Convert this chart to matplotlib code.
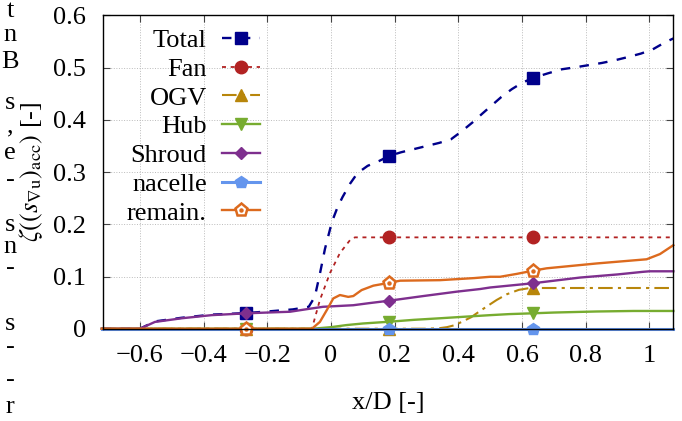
import matplotlib
matplotlib.use("Agg")
import matplotlib.pyplot as plt
import numpy as np
from matplotlib.legend_handler import HandlerTuple

plt.rcParams['font.family'] = ['Liberation Serif', 'DejaVu Serif']
plt.rcParams['mathtext.fontset'] = 'stix'
plt.rcParams['font.size'] = 19

# positions of the symbols along x/D
marker_x = [-0.267, 0.183, 0.633]

total_x = [-0.72, -0.6, -0.553, -0.469, -0.375, -0.267, -0.2, -0.12, -0.07, -0.051, -0.035,
           -0.019, 0.003, 0.02, 0.036, 0.06, 0.083, 0.115, 0.15, 0.183, 0.22, 0.26, 0.3,
           0.34, 0.377, 0.41, 0.446, 0.475, 0.505, 0.535, 0.568, 0.6, 0.633, 0.68, 0.725,
           0.77, 0.81, 0.85, 0.89, 0.93, 0.973, 1.01, 1.05, 1.075]
total_y = [0, 0, 0.014, 0.021, 0.027, 0.030, 0.033, 0.037, 0.042, 0.061, 0.105,
           0.153, 0.205, 0.232, 0.252, 0.278, 0.298, 0.312, 0.321, 0.331, 0.338, 0.344, 0.35,
           0.356, 0.363, 0.378, 0.396, 0.412, 0.428, 0.444, 0.459, 0.471, 0.48, 0.489, 0.497,
           0.501, 0.505, 0.509, 0.514, 0.52, 0.527, 0.535, 0.549, 0.556]

fan_x = [-0.72, -0.267, -0.06, -0.035, -0.003, 0.028, 0.06, 0.075, 0.183, 0.633, 1.075]
fan_y = [0, 0, 0, 0.055, 0.107, 0.145, 0.17, 0.175, 0.175, 0.175, 0.175]

ogv_x = [-0.72, -0.267, 0.183, 0.3, 0.34, 0.364, 0.39, 0.41, 0.44, 0.468, 0.5, 0.52,
         0.552, 0.59, 0.62, 0.633, 1.075]
ogv_y = [0, 0, 0, 0, 0.001, 0.003, 0.007, 0.013, 0.022, 0.034, 0.047, 0.055,
         0.066, 0.0745, 0.0775, 0.078, 0.078]

hub_x = [-0.72, -0.267, -0.056, 0.0, 0.049, 0.1, 0.183, 0.26, 0.342, 0.42, 0.5, 0.56,
         0.633, 0.7, 0.834, 0.95, 1.075]
hub_y = [0, 0, 0, 0.003, 0.007, 0.010, 0.0134, 0.017, 0.020, 0.023, 0.026, 0.028,
         0.0295, 0.031, 0.033, 0.034, 0.034]

shroud_x = [-0.72, -0.6, -0.553, -0.469, -0.375, -0.267, -0.2, -0.129, -0.07, -0.025,
            0.07, 0.12, 0.183, 0.29, 0.395, 0.468, 0.5, 0.633, 0.782, 0.9, 0.98, 1.0, 1.075]
shroud_y = [0, 0, 0.013, 0.020, 0.026, 0.0295, 0.031, 0.0325, 0.038, 0.042,
            0.045, 0.049, 0.0537, 0.0626, 0.071, 0.076, 0.079, 0.087, 0.098, 0.104, 0.109, 0.11, 0.11]

nacelle_x = [-0.72, -0.267, 0.183, 0.633, 1.075]
nacelle_y = [0, 0, 0, 0, 0]

remain_x = [-0.72, -0.267, -0.06, -0.035, -0.013, 0.007, 0.028, 0.054, 0.07, 0.096, 0.133,
            0.183, 0.217, 0.342, 0.45, 0.5, 0.531, 0.583, 0.633, 0.677, 0.834, 0.991, 1.033, 1.075]
remain_y = [0, 0, 0, 0.013, 0.036, 0.058, 0.0645, 0.061, 0.0626, 0.074, 0.0825,
            0.088, 0.092, 0.093, 0.097, 0.0995, 0.0995, 0.105, 0.111, 0.1157, 0.125, 0.133, 0.143, 0.16]

xticks = [-0.6, -0.4, -0.2, 0, 0.2, 0.4, 0.6, 0.8, 1]
xtick_labels = ['\u22120.6', '\u22120.4', '\u22120.2', '0', '0.2', '0.4', '0.6', '0.8', '1']
yticks = [0, 0.1, 0.2, 0.3, 0.4, 0.5, 0.6]
ytick_labels = ['0', '0.1', '0.2', '0.3', '0.4', '0.5', '0.6']

# letters of the neighbouring text column that run into the figure
margin_letters = ['t', 'n', 'B', 's', ',', 'e', '-', 's', 'n', '-', 's', '-', '-', 'r']
margin_rows = [11, 35, 62, 103, 126, 153, 180, 225, 247, 268, 324, 347, 380, 407]


def marks(xs):
    return [i for i, v in enumerate(xs) if v in marker_x]


fig = plt.figure(figsize=(6.82, 4.21), dpi=100)
ax = fig.add_axes([0.1506, 0.2192, 0.8367, 0.744])

ax.plot(total_x, total_y, color='#00008B', lw=1.7, dashes=[4, 4], marker='s', ms=9,
        markevery=marks(total_x), label='Total', clip_on=False)
ax.plot(fan_x, fan_y, color='#B22222', lw=1.3, dashes=[2.2, 2.6], marker='o', ms=9,
        markevery=marks(fan_x), label='Fan', clip_on=False)
ax.plot(ogv_x, ogv_y, color='#B8860B', lw=1.5, dashes=[7, 2.5, 1.5, 2.5], marker='^', ms=8,
        markevery=marks(ogv_x), label='OGV', clip_on=False)
ax.plot(hub_x, hub_y, color='#77AC30', lw=1.7, marker='v', ms=8,
        markevery=marks(hub_x), label='Hub', clip_on=False)
ax.plot(shroud_x, shroud_y, color='#7E2F8E', lw=1.7, marker='D', ms=6,
        markevery=marks(shroud_x), label='Shroud', clip_on=False)
ax.plot(nacelle_x, nacelle_y, color='#6495ED', lw=2.2, marker='p', ms=9,
        markevery=marks(nacelle_x), label='nacelle', clip_on=False)
rem, = ax.plot(remain_x, remain_y, color='#DC6A1E', lw=1.7, marker='p', ms=9.5, mfc='white',
               mew=1.8, markevery=marks(remain_x), clip_on=False)
rem_dot, = ax.plot(remain_x, remain_y, ls='none', color='#DC6A1E', marker='o', ms=2.2,
                   markevery=marks(remain_x), clip_on=False)

ax.set_xlim(-0.717, 1.075)
ax.set_ylim(0, 0.6)
ax.set_xticks(xticks, xtick_labels)
ax.set_yticks(yticks, ytick_labels)
ax.tick_params(direction='in', length=5, width=0.8, color='#444444', top=True, right=True)
ax.tick_params(axis='x', pad=12)
ax.tick_params(axis='y', pad=12)
ax.grid(True, ls=':', lw=0.7, color='#bbbbbb')
for sp in ax.spines.values():
    sp.set_linewidth(1.0)

ax.set_xlabel('x/D [-]', labelpad=18)
ax.set_ylabel(r'$\zeta((s_{\nabla\mathrm{u}})_{\mathrm{acc}})$ [-]', labelpad=6)

handles, labels = ax.get_legend_handles_labels()
handles.append((rem, rem_dot))
labels.append('remain.')
ax.legend(handles, labels, loc='upper right', bbox_to_anchor=(0.276, 0.958), frameon=False,
          markerfirst=False, handlelength=1.45, handletextpad=0.57, labelspacing=0.2,
          borderpad=0, borderaxespad=0, handler_map={tuple: HandlerTuple(ndivide=1)})

for ch, row in zip(margin_letters, margin_rows):
    fig.text(10 / 682, 1 - row / 421, ch, ha='center', va='center')

fig.savefig('out.png', dpi=100)
